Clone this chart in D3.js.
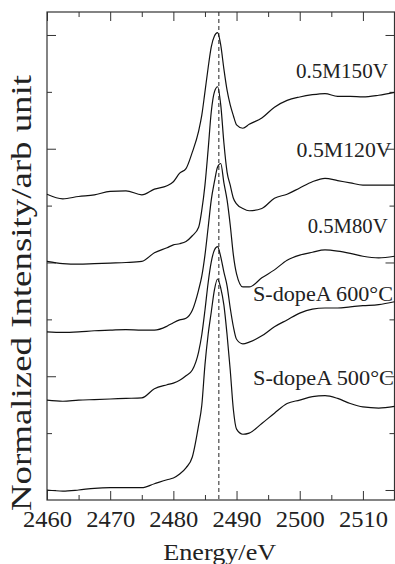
<!DOCTYPE html>
<html>
<head>
<meta charset="utf-8">
<script src="https://cdn.jsdelivr.net/npm/d3@7"></script>
<style>
  html, body { margin: 0; padding: 0; background: #fff; }
  svg { display: block; }
  svg text { font-family: "Liberation Serif", "Tinos", "Times New Roman", Times, serif !important; fill: #222; }
</style>
</head>
<body>
<svg id="chart" width="395" height="564"></svg>
<script>
// ---- data ----
const energy = [2460, 2462.5, 2465, 2467.5, 2470, 2472.5, 2475, 2477, 2479, 2480,
                2481, 2482, 2483, 2484, 2484.5, 2485, 2485.5, 2486, 2486.5, 2487,
                2487.5, 2488, 2488.5, 2489, 2489.5, 2490, 2491, 2492, 2494, 2496,
                2498, 2500, 2502, 2504, 2506, 2508, 2510, 2512.5, 2515];

const s150V = [5.20, 5.12, 5.16, 5.19, 5.25, 5.26, 5.19, 5.29, 5.35, 5.42,
               5.57, 5.65, 5.94, 6.31, 6.59, 7.00, 7.42, 7.79, 7.98, 8.04,
               7.82, 7.40, 7.03, 6.77, 6.58, 6.42, 6.36, 6.43, 6.54, 6.73,
               6.85, 6.91, 6.95, 6.97, 6.92, 6.92, 6.91, 6.94, 6.99];

const s120V = [4.02, 3.98, 3.97, 3.98, 3.99, 4.00, 4.02, 4.17, 4.26, 4.31,
               4.33, 4.37, 4.47, 4.62, 4.92, 5.36, 5.98, 6.65, 7.00, 7.09,
               6.77, 6.10, 5.59, 5.36, 5.13, 5.03, 4.95, 4.91, 4.95, 5.13,
               5.20, 5.31, 5.42, 5.48, 5.44, 5.40, 5.36, 5.36, 5.36];

const s80V  = [2.78, 2.77, 2.78, 2.80, 2.81, 2.82, 2.81, 2.81, 2.88, 2.94,
               2.99, 3.02, 3.16, 3.52, 3.76, 4.13, 4.61, 5.10, 5.42, 5.68,
               5.74, 5.40, 5.10, 4.66, 4.13, 3.80, 3.57, 3.57, 3.73, 3.87,
               4.04, 4.13, 4.18, 4.22, 4.20, 4.16, 4.11, 4.08, 4.11];

const s600C = [1.58, 1.56, 1.58, 1.59, 1.60, 1.61, 1.62, 1.78, 1.85, 1.88,
               1.93, 2.01, 2.11, 2.43, 2.73, 3.16, 3.64, 4.01, 4.22, 4.28,
               4.10, 3.83, 3.59, 3.20, 2.87, 2.65, 2.57, 2.60, 2.71, 2.87,
               2.99, 3.11, 3.18, 3.20, 3.20, 3.22, 3.24, 3.26, 3.31];

const s500C = [0.00, -0.02, 0.00, 0.03, 0.04, 0.04, 0.04, 0.11, 0.18, 0.21,
               0.28, 0.39, 0.58, 1.14, 1.49, 2.20, 2.73, 3.13, 3.52, 3.71,
               3.55, 3.25, 2.73, 2.11, 1.41, 1.07, 0.98, 1.00, 1.17, 1.35,
               1.52, 1.58, 1.64, 1.66, 1.61, 1.52, 1.46, 1.44, 1.47];

const seriesNames = ["0.5M150V", "0.5M120V", "0.5M80V", "S-dopeA 600°C", "S-dopeA 500°C"];
const seriesValues = [s150V, s120V, s80V, s600C, s500C];
// label anchor: energy at the text's left edge, intensity at its baseline
const labelEnergy = [2499.4, 2499.5, 2501.25, 2492.6, 2492.6];
const labelLevel  = [7.24, 5.855, 4.52, 3.32, 1.846];
const labelWidth  = [92, 95, 80, 140, 141];

const xMajor = [2460, 2470, 2480, 2490, 2500, 2510];
const xMinor = [2465, 2475, 2485, 2495, 2505, 2515];
const yMajor = [0, 2, 4, 6, 8];
const yMinor = [1, 3, 5, 7];
const refEnergy = 2487.2;

// ---- layout ----
const FONT = "'Liberation Serif', 'Times New Roman', serif";
const L = 47, R = 394.5, T = 12, B = 500;
const svg = d3.select("#chart");
const x = d3.scaleLinear().domain([2460, 2515]).range([L, R]);
const y = d3.scaleLinear().domain([-0.176, 8.404]).range([B, T]);

const axisStyle = g => {
  g.attr("font-family", null);
  g.select(".domain").remove();
  g.selectAll(".tick line").attr("stroke", "#333").attr("stroke-width", 1);
};

// bottom axis (major with labels)
svg.append("g").attr("transform", `translate(0,${B})`)
  .call(d3.axisBottom(x).tickValues(xMajor).tickSize(-9).tickFormat(d3.format("d")))
  .call(axisStyle)
  .call(g => g.selectAll("text")
    .attr("y", 26.7).attr("dy", 0)
    .attr("font-size", 23).attr("fill", "#222")
    .style("font-family", FONT)
    .attr("textLength", 49).attr("lengthAdjust", "spacingAndGlyphs"));
svg.append("g").attr("transform", `translate(0,${B})`)
  .call(d3.axisBottom(x).tickValues(xMinor).tickSize(-5).tickFormat(""))
  .call(axisStyle);
// top axis
svg.append("g").attr("transform", `translate(0,${T})`)
  .call(d3.axisTop(x).tickValues(xMajor).tickSize(-9).tickFormat(""))
  .call(axisStyle);
svg.append("g").attr("transform", `translate(0,${T})`)
  .call(d3.axisTop(x).tickValues(xMinor).tickSize(-5).tickFormat(""))
  .call(axisStyle);
// left axis
svg.append("g").attr("transform", `translate(${L},0)`)
  .call(d3.axisLeft(y).tickValues(yMajor).tickSize(-9).tickFormat(""))
  .call(axisStyle);
svg.append("g").attr("transform", `translate(${L},0)`)
  .call(d3.axisLeft(y).tickValues(yMinor).tickSize(-5).tickFormat(""))
  .call(axisStyle);
// right axis
svg.append("g").attr("transform", `translate(${R},0)`)
  .call(d3.axisRight(y).tickValues(yMajor).tickSize(-9).tickFormat(""))
  .call(axisStyle);
svg.append("g").attr("transform", `translate(${R},0)`)
  .call(d3.axisRight(y).tickValues(yMinor).tickSize(-5).tickFormat(""))
  .call(axisStyle);

// frame
svg.append("rect").attr("x", L).attr("y", T).attr("width", R - L).attr("height", B - T)
  .attr("fill", "none").attr("stroke", "#333").attr("stroke-width", 1.2);

// dashed reference line
svg.append("line")
  .attr("x1", x(refEnergy)).attr("x2", x(refEnergy))
  .attr("y1", T).attr("y2", B)
  .attr("stroke", "#222").attr("stroke-width", 1).attr("stroke-dasharray", "4,3");

// spectra
const line = d3.line().curve(d3.curveMonotoneX).x(d => x(d[0])).y(d => y(d[1]));
seriesValues.forEach(vals => {
  svg.append("path")
    .datum(energy.map((e, i) => [e, vals[i]]))
    .attr("d", line)
    .attr("fill", "none").attr("stroke", "#111").attr("stroke-width", 1.2)
    .attr("stroke-linejoin", "round");
});

// labels
seriesNames.forEach((name, i) => {
  svg.append("text")
    .attr("x", x(labelEnergy[i])).attr("y", y(labelLevel[i]))
    .attr("font-size", 22)
    .style("font-family", FONT)
    .attr("textLength", labelWidth[i]).attr("lengthAdjust", "spacingAndGlyphs")
    .text(name);
});

// axis titles
svg.append("text")
  .attr("x", 219.7).attr("y", 560)
  .attr("text-anchor", "middle").attr("font-size", 23)
  .style("font-family", FONT)
  .attr("textLength", 113).attr("lengthAdjust", "spacingAndGlyphs")
  .text("Energy/eV");

svg.append("text")
  .attr("transform", "translate(31,293) rotate(-90)")
  .attr("text-anchor", "middle").attr("font-size", 29)
  .style("font-family", FONT)
  .attr("textLength", 436).attr("lengthAdjust", "spacingAndGlyphs")
  .text("Normalized Intensity/arb unit");
</script>
</body>
</html>
